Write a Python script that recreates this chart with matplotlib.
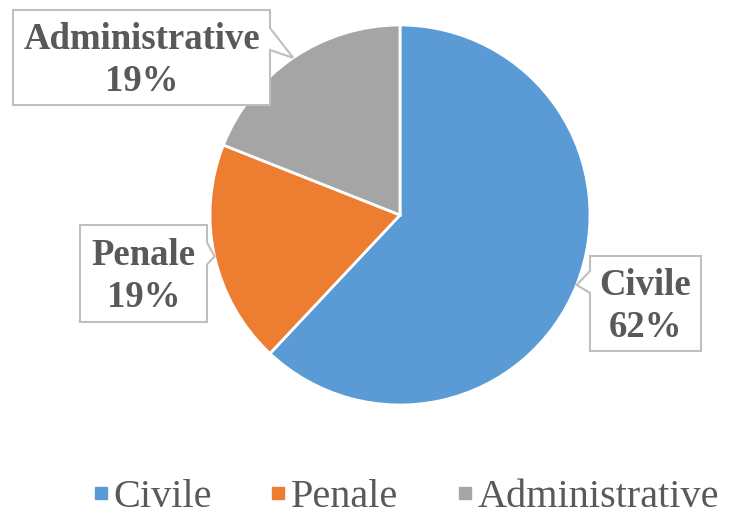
import numpy as np
import matplotlib
matplotlib.use("Agg")
import matplotlib.pyplot as plt
from matplotlib.patches import Polygon
from matplotlib.lines import Line2D

categories = ["Civile", "Penale", "Administrative"]
shares = [62, 19, 19]
colors = ["#5B9BD5", "#ED7D31", "#A5A5A5"]

W, H = 736, 517
fig = plt.figure(figsize=(W / 100, H / 100), dpi=100)
ax = fig.add_axes([0, 0, 1, 1])

cx, cy, r = 400, H - 215, 190
wedges, _ = ax.pie(shares, colors=colors, startangle=90, counterclock=False,
                   center=(cx, cy), radius=r, frame=True,
                   wedgeprops=dict(edgecolor="white", linewidth=2))
ax.set_xlim(0, W)
ax.set_ylim(0, H)
ax.set_aspect("equal")
ax.axis("off")

txt = "#595959"
# label boxes (left, top, right, bottom) in image pixels, and side of pointer
boxes = {
    "Civile": ((590, 256, 701, 351), "left"),
    "Penale": ((80, 225, 207, 322), "right"),
    "Administrative": ((13, 10, 270, 105), "right"),
}

for w, name, val in zip(wedges, categories, shares):
    mid = np.radians((w.theta1 + w.theta2) / 2)
    tx, ty = cx + r * np.cos(mid), cy + r * np.sin(mid)
    (x0, t, x1, b), side = boxes[name]
    y0, y1 = H - b, H - t
    if side == "left":
        pts = [(x0, y1), (x1, y1), (x1, y0), (x0, y0),
               (x0, ty - 8), (tx, ty), (x0, ty + 14)]
    elif name == "Administrative":
        pts = [(x0, y1), (x1, y1), (x1, H - 28), (tx, ty),
               (x1, H - 50), (x1, y0), (x0, y0)]
    else:
        pts = [(x0, y1), (x1, y1), (x1, ty + 14), (tx, ty),
               (x1, ty - 8), (x1, y0), (x0, y0)]
    ax.add_patch(Polygon(pts, closed=True, facecolor="white",
                         edgecolor="#BFBFBF", linewidth=1.5, zorder=3))
    ax.text((x0 + x1) / 2, (y0 + y1) / 2 - 3, f"{name}\n{val}%", ha="center",
            va="center", fontsize=26.5, fontweight="bold", color=txt,
            family="Liberation Serif", linespacing=1.27, zorder=4)

handles = [Line2D([], [], marker="s", linestyle="none", markersize=9,
                  markerfacecolor=c, markeredgecolor=c) for c in colors]
fig.legend(handles, categories, loc="center", bbox_to_anchor=(406 / W, 1 - 497 / H),
           ncol=3, frameon=False, handletextpad=0.12, columnspacing=1.45,
           handlelength=0.4,
           prop=dict(family="Liberation Serif", size=29), labelcolor=txt)

fig.savefig("out.png", dpi=100, facecolor="white")
